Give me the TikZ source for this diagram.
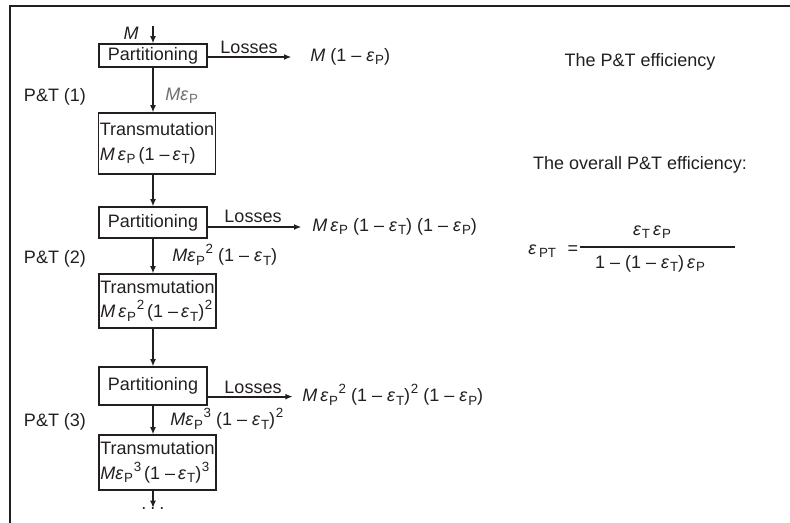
\documentclass[tikz,border=0pt]{standalone}
\usepackage{fontspec}
\setmainfont{Liberation Sans}
\usetikzlibrary{arrows.meta}
\definecolor{ink}{HTML}{231F20}
\definecolor{greyink}{HTML}{6D6E71}
\newcommand{\ee}[1]{\textit{ε}\kern0.6pt\raisebox{-0.35ex}{\fontsize{10}{10}\selectfont #1}}
\newcommand{\sq}[1]{\kern0.5pt\raisebox{0.85ex}{\fontsize{10}{10}\selectfont #1}}
\newcommand{\mm}{\textit{M}}
\tikzset{
  stagebox/.style={draw=ink, line width=0.9pt, inner sep=1pt, align=left, text=ink},
  flow/.style={draw=ink, line width=1.4pt, -{Latex[length=5.5pt,width=4.5pt]}},
  lbl/.style={text=ink, inner sep=0pt},
}
\begin{document}
\begin{tikzpicture}[x=0.75pt, y=-0.75pt, font=\fontsize{13.5}{18.5}\selectfont]
\useasboundingbox (0,0) rectangle (790,523);
% frame
\draw[ink, line width=1.5pt] (10,523) -- (10,6) -- (790,6);

% stage 1
\node[lbl] (Min) at (131,33) {\mm};
\coordinate (inp) at (153,26);
\node[stagebox, minimum width=81pt, minimum height=17.25pt] (p1) at (153,55.5) {Partitioning};
\node[stagebox, minimum width=85.5pt, minimum height=45.75pt] (t1) at (157,143.5) {Transmutation\\\mm\,\ee{P}\,(1 –\,\ee{T})};
\node[lbl, anchor=west] (r1) at (310,57) {\mm\ (1 – \ee{P})};
\node[lbl] (l1) at (249,47) {Losses};
\node[lbl] (pt1) at (55,97) {P\&T (1)};
\node[lbl, anchor=west, text=greyink] (f1) at (165,96) {\mm\ee{P}};
\draw[flow] (inp) -- (inp |- p1.north);
\draw[flow] (p1.east |- r1.west) -- ([xshift=-14pt]r1.west);
\draw[flow] (p1.south) -- (p1.south |- t1.north);

% stage 2
\node[stagebox, minimum width=81pt, minimum height=23.25pt] (p2) at (153,222.5) {Partitioning};
\node[stagebox, minimum width=87.75pt, minimum height=40.5pt] (t2) at (157.5,301) {Transmutation\\\mm\,\ee{P}\sq{2}\,(1 –\,\ee{T})\sq{2}};
\node[lbl, anchor=west] (r2) at (312,227) {\mm\,\ee{P} (1 – \ee{T}) (1 – \ee{P})};
\node[lbl] (l2) at (253,216) {Losses};
\node[lbl] (pt2) at (55,259) {P\&T (2)};
\node[lbl, anchor=west] (f2) at (172,255) {\mm\ee{P}\sq{2} (1 – \ee{T})};
\draw[flow] (t1.south -| p1.south) -- (p2.north);
\draw[flow] (p2.east |- r2.west) -- ([xshift=-8pt]r2.west);
\draw[flow] (p2.south) -- (p2.south |- t2.north);

% stage 3
\node[stagebox, minimum width=81pt, minimum height=28.5pt] (p3) at (153,386) {Partitioning};
\node[stagebox, minimum width=87.75pt, minimum height=41.25pt] (t3) at (157.5,462.5) {Transmutation\\\mm\ee{P}\sq{3}\,(1 –\,\ee{T})\sq{3}};
\node[lbl, anchor=west] (r3) at (302,395) {\mm\,\ee{P}\sq{2} (1 – \ee{T})\sq{2} (1 – \ee{P})};
\node[lbl] (l3) at (253,387) {Losses};
\node[lbl] (pt3) at (55,422) {P\&T (3)};
\node[lbl, anchor=west] (f3) at (170,419) {\mm\ee{P}\sq{3} (1 – \ee{T})\sq{2}};
\coordinate (ls3) at ([yshift=-8pt]p3.east);
\coordinate (r3tip) at ([xshift=-7pt]r3.west);
\draw[flow] (t2.south -| p2.south) -- (p3.north);
\draw[flow] (ls3) -- (r3tip |- ls3);
\draw[flow] (p3.south) -- (p3.south |- t3.north);
\node[lbl] (dots) at (153,509) {.\hspace{3pt}.\hspace{3pt}.};
\coordinate (tail) at (153,508);
\draw[flow] (t3.south -| p3.south) -- (tail);

% right side
\node[lbl] (eff) at (640,62) {The P\&T efficiency};
\node[lbl] (ov) at (640,165) {The overall P\&T efficiency:};
\node[lbl, anchor=west] (epsPT) at (528,251) {\textit{ε}\kern2pt\raisebox{-0.35ex}{\fontsize{10}{10}\selectfont PT}};
\node[lbl] (eq) at (573,250) {=};
\node[lbl] (num) at (652,232) {\ee{T}\,\ee{P}};
\node[lbl] (den) at (650,264) {1 – (1 – \ee{T})\,\ee{P}};
\coordinate (barL) at (580,247);
\coordinate (barR) at (735,247);
\draw[ink, line width=0.8pt] (barL) -- (barR);
\end{tikzpicture}
\end{document}
